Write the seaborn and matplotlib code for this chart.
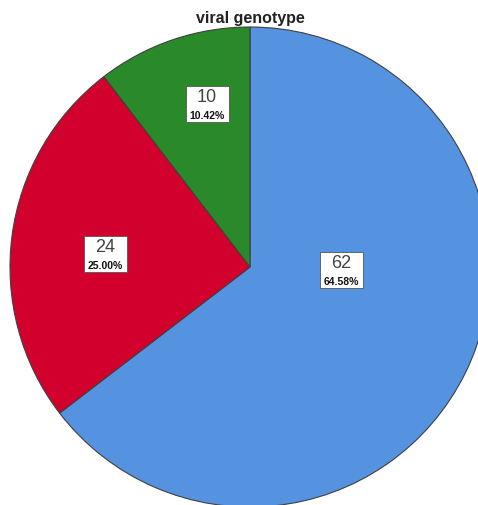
import matplotlib
matplotlib.use("Agg")
import matplotlib.pyplot as plt
import seaborn as sns
from matplotlib.patches import Rectangle

categories = ["Genotype A", "Genotype B", "Genotype C"]
counts = [62, 24, 10]
percents = ["64.58%", "25.00%", "10.42%"]
title = "viral genotype"

sns.set_theme(style="white")
plt.rcParams['font.family'] = ['Liberation Sans', 'DejaVu Sans']
palette = sns.color_palette(["#5592E0", "#D1002D", "#2A8A2A"])

W, H = 478, 506
fig = plt.figure(figsize=(W / 100, H / 100), dpi=100)
ax = fig.add_axes([0, 0, 1, 1])

cx, cy, R = 250, 268, 240  # pixel layout of pie centre and radius
wedges, _ = ax.pie(counts, colors=palette, startangle=90, counterclock=False,
                   wedgeprops=dict(edgecolor="#404040", linewidth=0.8))
ax.set_aspect('auto')
ax.set_xlim(-cx / R, (W - cx) / R)
ax.set_ylim(-(H - cy) / R, cy / R)
ax.axis('off')

# label box centres (pixel layout, from top-left)
label_px = [(341, 271), (105, 255), (207, 105)]
bw, bh = 43 / R, 36 / R
for (px, py), n, p in zip(label_px, counts, percents):
    x = (px - cx) / R
    y = (cy - py) / R
    ax.add_patch(Rectangle((x - bw / 2, y - bh / 2), bw, bh, facecolor="white",
                           edgecolor="#555555", linewidth=0.6, zorder=5))
    ax.text(x, y + 7 / R, str(n), ha="center", va="center", fontsize=13,
            color="#444444", zorder=6)
    ax.text(x, y - 11 / R, p, ha="center", va="center", fontsize=7.5,
            fontweight="bold", color="#111111", zorder=6)

fig.text(250 / W, 1 - 18 / H, title, ha="center", va="center",
         fontsize=11.5, fontweight="bold", color="#222222")

fig.savefig("out.png", dpi=100)
